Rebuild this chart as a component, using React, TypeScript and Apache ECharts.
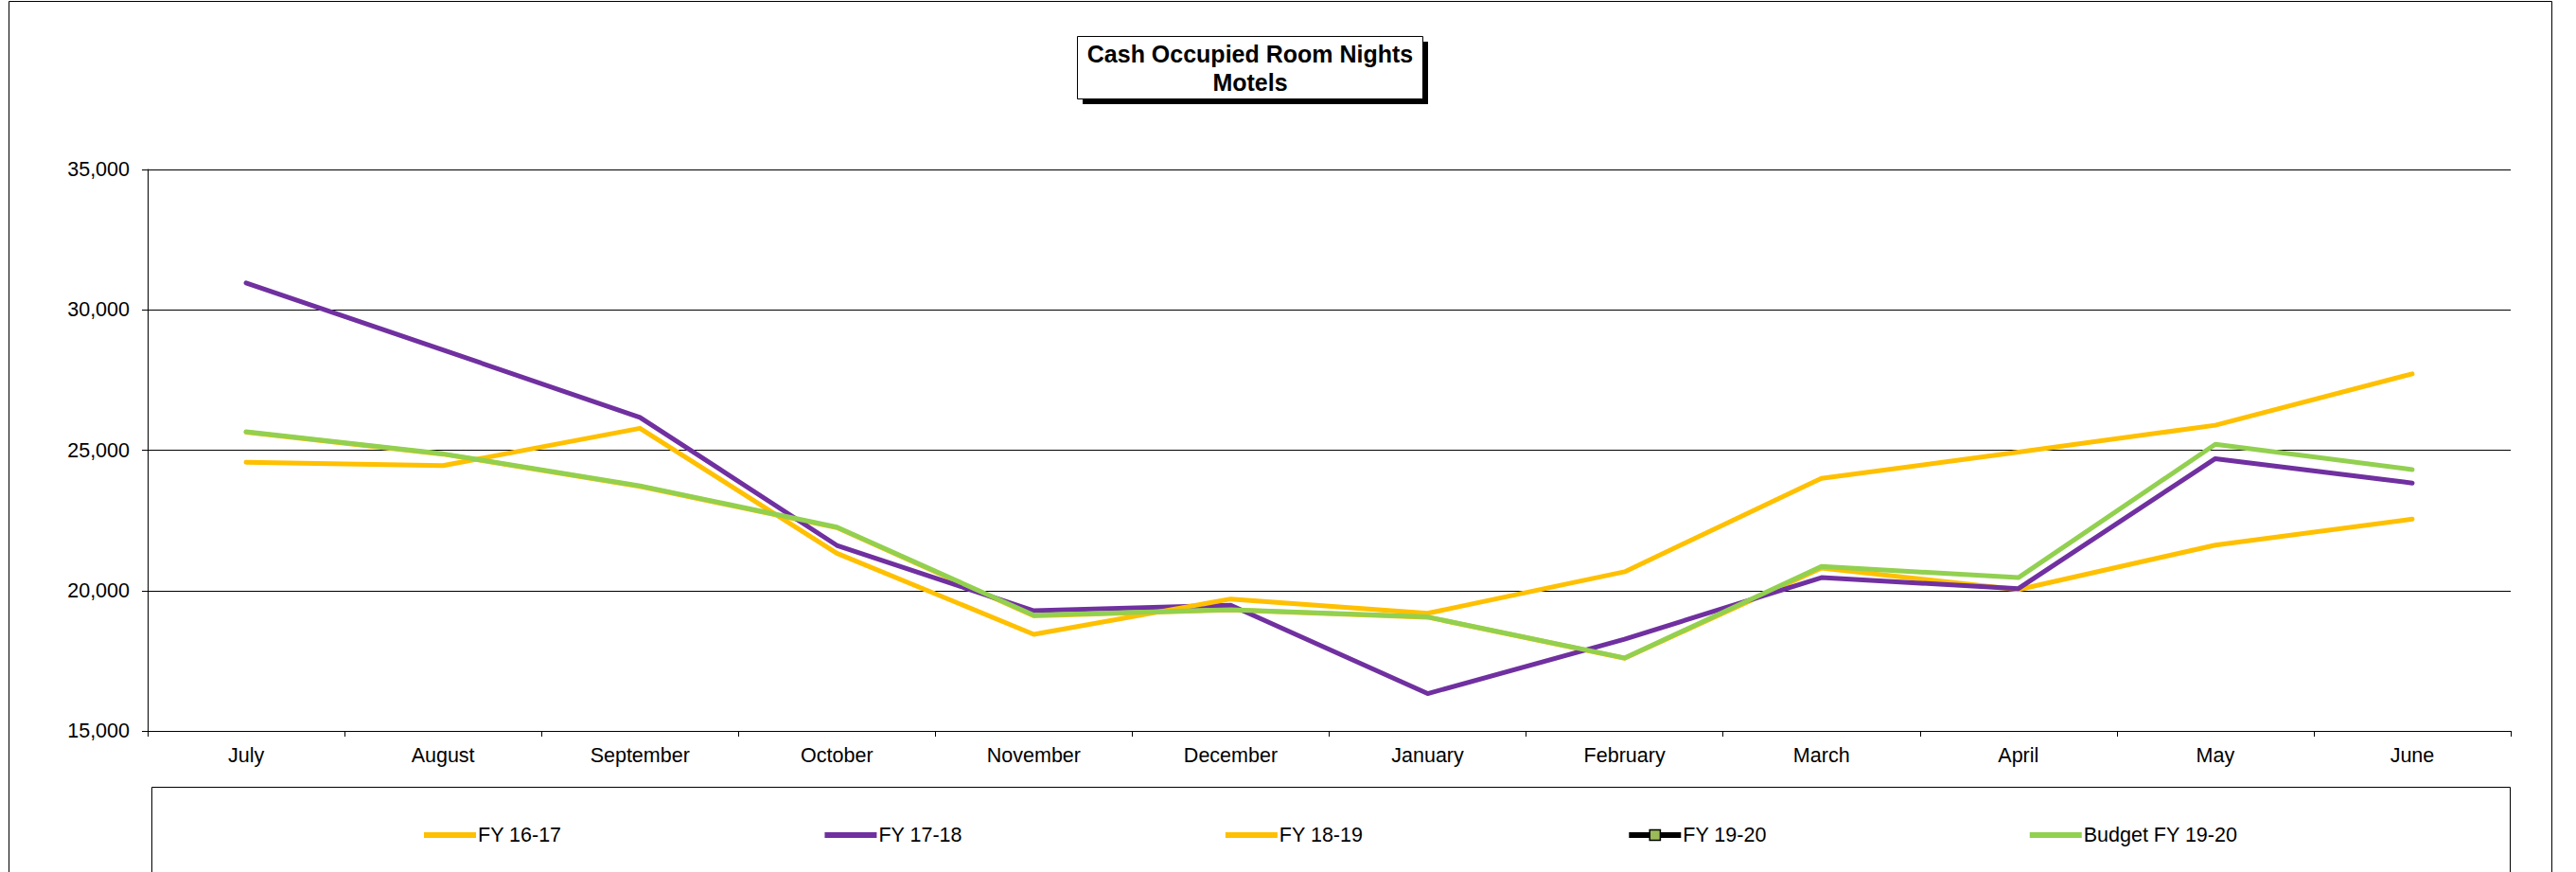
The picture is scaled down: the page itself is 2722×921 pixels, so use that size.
import React, { useEffect, useRef } from 'react';
import * as echarts from 'echarts';

const months = ['July', 'August', 'September', 'October', 'November', 'December', 'January', 'February', 'March', 'April', 'May', 'June'];
const fy1617 = [25640, 24860, 23710, 22240, 19100, 19310, 19050, 17590, 20800, 20035, 21620, 22545];
const fy1718 = [30960, 28570, 26170, 21610, 19280, 19480, 16330, 18270, 20460, 20070, 24700, 23830];
const fy1819 = [24570, 24450, 25780, 21330, 18440, 19700, 19190, 20670, 24000, 24930, 25890, 27720];
const fy1920: (number | null)[] = [null, null, null, null, null, null, null, null, null, null, null, null];
const budget1920 = [25660, 24870, 23730, 22260, 19120, 19320, 19060, 17600, 20860, 20460, 25210, 24310];
const yTicks = [15000, 20000, 25000, 30000, 35000];
const titleLines = ['Cash Occupied Room Nights', 'Motels'];

const FONT = '"Liberation Sans", Arial, Helvetica, sans-serif';
const YELLOW = '#FFC000';
const PURPLE = '#7030A0';
const GREEN = '#92D050';
const LINE_ICON = 'path://M0,0L55,0L55,6L0,6Z';

export default function App() {
  const ref = useRef<HTMLDivElement>(null);
  useEffect(() => {
    if (!ref.current) return;
    const chart = echarts.init(ref.current, undefined, { renderer: 'svg' });
    const lineSeries = (name: string, data: (number | null)[], color: string) => ({
      name,
      type: 'line',
      data,
      symbol: 'none',
      showSymbol: false,
      color,
      itemStyle: { color },
      lineStyle: { color, width: 5, cap: 'round', join: 'round' },
      emphasis: { disabled: true },
    });
    chart.setOption({
      animation: false,
      backgroundColor: '#fff',
      textStyle: { fontFamily: FONT },
      grid: { left: 156, right: 69, top: 179, bottom: 149, containLabel: false },
      xAxis: {
        type: 'category',
        data: months,
        boundaryGap: true,
        axisLine: { show: true, lineStyle: { color: '#000', width: 1 } },
        axisTick: { show: true, interval: 0, length: 6, inside: false, lineStyle: { color: '#000', width: 1 } },
        axisLabel: { interval: 0, margin: 15, fontSize: 21.5, color: '#000', fontFamily: FONT },
        splitLine: { show: false },
      },
      yAxis: {
        type: 'value',
        min: yTicks[0],
        max: yTicks[yTicks.length - 1],
        interval: yTicks[1] - yTicks[0],
        axisLine: { show: true, lineStyle: { color: '#000', width: 1 } },
        axisTick: { show: true, length: 6, inside: false, lineStyle: { color: '#000', width: 1 } },
        axisLabel: {
          margin: 19,
          fontSize: 21.5,
          color: '#000',
          fontFamily: FONT,
          formatter: (v: number) => v.toLocaleString('en-US'),
        },
        splitLine: { show: true, lineStyle: { color: '#000', width: 1 } },
      },
      legend: {
        left: 443,
        top: 866,
        orient: 'horizontal',
        itemWidth: 55,
        itemHeight: 14,
        itemGap: 278,
        selectedMode: false,
        textStyle: { fontSize: 21.5, color: '#000', fontFamily: FONT, padding: [0, 0, 0, -3] },
        data: [
          { name: 'FY 16-17', icon: LINE_ICON },
          { name: 'FY 17-18', icon: LINE_ICON },
          { name: 'FY 18-19', icon: LINE_ICON },
          { name: 'FY 19-20', lineStyle: { width: 6, color: '#000' }, itemStyle: { color: '#9BBB59', borderColor: '#000', borderWidth: 1.5 } },
          { name: 'Budget FY 19-20', icon: LINE_ICON },
        ],
      },
      graphic: [
        { type: 'rect', silent: true, z: -10, shape: { x: 9.5, y: 1.5, width: 2687, height: 1000 }, style: { fill: 'none', stroke: '#000', lineWidth: 1 } },
        { type: 'rect', silent: true, shape: { x: 160.5, y: 831.5, width: 2492, height: 200 }, style: { fill: 'none', stroke: '#000', lineWidth: 1 } },
        { type: 'rect', silent: true, shape: { x: 1144, y: 44, width: 365, height: 66 }, style: { fill: '#000' } },
        { type: 'rect', silent: true, shape: { x: 1138.5, y: 38.5, width: 365, height: 66 }, style: { fill: '#fff', stroke: '#000', lineWidth: 1 } },
        {
          type: 'text',
          silent: true,
          x: 1321,
          y: 72,
          style: {
            text: titleLines.join('\n'),
            font: 'bold 25px ' + FONT,
            align: 'center',
            verticalAlign: 'middle',
            lineHeight: 30,
            fill: '#000',
          },
        },
      ],
      series: [
        lineSeries('FY 16-17', fy1617, YELLOW),
        lineSeries('FY 17-18', fy1718, PURPLE),
        lineSeries('FY 18-19', fy1819, YELLOW),
        {
          name: 'FY 19-20',
          type: 'line',
          data: fy1920,
          symbol: 'rect',
          symbolSize: 11,
          color: '#9BBB59',
          itemStyle: { color: '#9BBB59', borderColor: '#000', borderWidth: 1.5 },
          lineStyle: { color: '#000', width: 6 },
          emphasis: { disabled: true },
        },
        lineSeries('Budget FY 19-20', budget1920, GREEN),
      ],
    });
    return () => chart.dispose();
  }, []);
  return (
    <div
      ref={ref}
      style={{ position: 'fixed', left: 0, top: 0, width: 2722, height: 921, background: '#fff' }}
    />
  );
}
